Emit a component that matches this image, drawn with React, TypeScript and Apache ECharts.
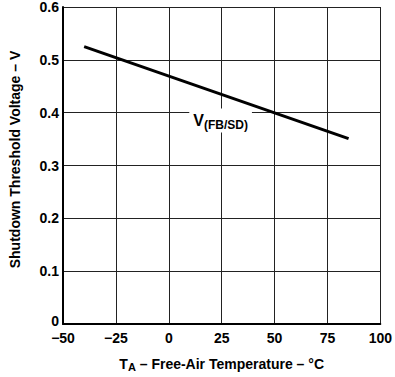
import React, { useEffect, useRef } from "react";
import * as echarts from "echarts";

const temps = [-40, 85];
const voltages = [0.525, 0.351];
const xTicks = [-50, -25, 0, 25, 50, 75, 100];
const yTicks = [0, 0.1, 0.2, 0.3, 0.4, 0.5, 0.6];
const lineLabel = { x: 24.5, y: 0.385, main: "V", sub: "(FB/SD)" };

export default function App() {
  const ref = useRef<HTMLDivElement>(null);
  useEffect(() => {
    const chart = echarts.init(ref.current!, null, { renderer: "svg" });
    const font = "Liberation Sans, Arial, sans-serif";
    chart.setOption({
      animation: false,
      grid: { left: 54, right: 12, top: 3, bottom: 45 },
      xAxis: {
        type: "value",
        min: xTicks[0],
        max: xTicks[xTicks.length - 1],
        interval: 25,
        axisLine: { show: true, onZero: false, lineStyle: { color: "#000", width: 2 } },
        axisTick: { show: false },
        splitLine: { show: true, lineStyle: { color: "#222", width: 1 } },
        axisLabel: {
          color: "#000",
          fontWeight: "bold",
          fontSize: 14,
          fontFamily: font,
          margin: 7,
          formatter: (v: number) => (v < 0 ? "\u2212" + Math.abs(v) : String(v)),
        },
        name: "T{s|A} \u2013 Free-Air Temperature \u2013 \u00B0C",
        nameLocation: "middle",
        nameGap: 31,
        nameTextStyle: {
          color: "#000",
          fontWeight: "bold",
          fontSize: 14,
          fontFamily: font,
          rich: {
            s: { fontSize: 11, fontWeight: "bold", fontFamily: font, color: "#000", verticalAlign: "bottom", padding: [6, 0, 0, 0] },
          },
        },
      },
      yAxis: {
        type: "value",
        min: 0,
        max: yTicks[yTicks.length - 1],
        interval: 0.1,
        axisLine: { show: true, onZero: false, lineStyle: { color: "#000", width: 2 } },
        axisTick: { show: false },
        splitLine: { show: true, lineStyle: { color: "#222", width: 1 } },
        axisLabel: {
          color: "#000",
          fontWeight: "bold",
          fontSize: 14,
          fontFamily: font,
          margin: 4,
          formatter: (v: number) => (v === 0 ? "{z|0}" : v.toFixed(1)),
          rich: {
            z: { fontSize: 14, fontWeight: "bold", fontFamily: font, color: "#000", padding: [0, 0, 7, 0] },
          },
        },
        name: "Shutdown Threshold Voltage \u2013 V",
        nameLocation: "middle",
        nameGap: 41,
        nameRotate: 90,
        nameTextStyle: { color: "#000", fontWeight: "bold", fontSize: 14, fontFamily: font, padding: [0, 0, 0, 12] },
      },
      series: [
        {
          type: "line",
          data: temps.map((t, i) => [t, voltages[i]]),
          symbol: "none",
          lineStyle: { color: "#000", width: 3 },
          markPoint: {
            symbol: "rect",
            symbolSize: 0,
            data: [{ coord: [lineLabel.x, lineLabel.y] }],
            label: {
              show: true,
              position: "inside",
              formatter: "{m|" + lineLabel.main + "}{s|" + lineLabel.sub + "}",
              backgroundColor: "#fff",
              padding: [2, 4, 2, 4],
              rich: {
                m: { fontSize: 16, fontWeight: "bold", fontFamily: font, color: "#000" },
                s: { fontSize: 12, fontWeight: "bold", fontFamily: font, color: "#000", verticalAlign: "bottom", padding: [8, 0, 0, 0] },
              },
            },
          },
        },
      ],
    });
    return () => chart.dispose();
  }, []);
  return <div ref={ref} style={{ width: 395, height: 377, position: "absolute", left: 0, top: 0 }} />;
}
